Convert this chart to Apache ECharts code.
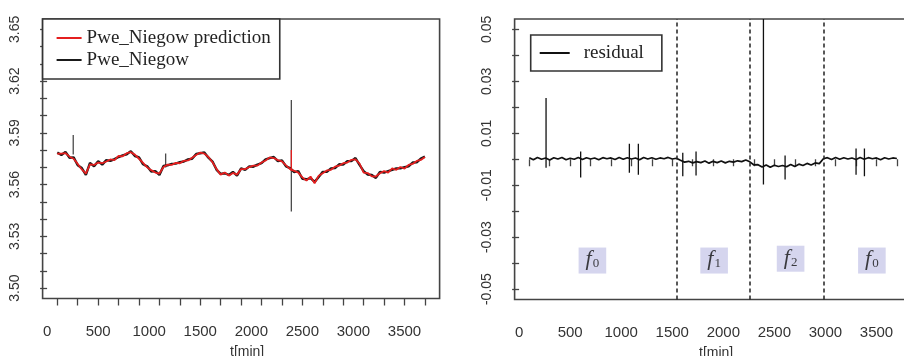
<!DOCTYPE html>
<html>
<head>
<meta charset="utf-8">
<script src="https://cdn.jsdelivr.net/npm/echarts@6/dist/echarts.min.js"></script>
<style>
  html, body { margin: 0; padding: 0; background: #fff; }
  #chart { width: 904px; height: 356px; }
</style>
</head>
<body>
<div id="chart"></div>
<script>
// Sampling grid of the series (minutes)
const startMin = 100;
const stepMin = 40;

// Measured pressure Pwe_Niegow
const pweActual = [
  3.5786, 3.5772, 3.5790, 3.5756, 3.5758, 3.5712, 3.5696, 3.5656, 3.5726, 3.5706,
  3.5736, 3.5716, 3.5742, 3.5738, 3.5748, 3.5760, 3.5770, 3.5776, 3.5794, 3.5766,
  3.5758, 3.5718, 3.5706, 3.5676, 3.5678, 3.5656, 3.5708, 3.5712, 3.5720, 3.5722,
  3.5730, 3.5734, 3.5746, 3.5750, 3.5778, 3.5782, 3.5786, 3.5756, 3.5734, 3.5686,
  3.5662, 3.5666, 3.5656, 3.5674, 3.5652, 3.5694, 3.5686, 3.5706, 3.5704, 3.5716,
  3.5724, 3.5746, 3.5754, 3.5760, 3.5736, 3.5741, 3.5706, 3.5696, 3.5672, 3.5678,
  3.5634, 3.5631, 3.5638, 3.5616, 3.5644, 3.5674, 3.5674, 3.5694, 3.5696, 3.5718,
  3.5716, 3.5736, 3.5736, 3.5754, 3.5714, 3.5678, 3.5659, 3.5656, 3.5639, 3.5674,
  3.5670, 3.5678, 3.5686, 3.5694, 3.5694, 3.5701, 3.5706, 3.5728, 3.5729, 3.5751,
  3.5762
];

// Model prediction of Pwe_Niegow
const pwePrediction = [
  3.5779, 3.5780, 3.5783, 3.5762, 3.5750, 3.5720, 3.5688, 3.5664, 3.5718, 3.5714,
  3.5728, 3.5724, 3.5734, 3.5746, 3.5742, 3.5766, 3.5764, 3.5782, 3.5788, 3.5774,
  3.5750, 3.5726, 3.5700, 3.5684, 3.5670, 3.5664, 3.5702, 3.5716, 3.5714, 3.5726,
  3.5724, 3.5738, 3.5740, 3.5756, 3.5772, 3.5786, 3.5780, 3.5760, 3.5730, 3.5690,
  3.5658, 3.5670, 3.5652, 3.5668, 3.5658, 3.5690, 3.5690, 3.5702, 3.5710, 3.5710,
  3.5728, 3.5740, 3.5758, 3.5754, 3.5742, 3.5735, 3.5712, 3.5690, 3.5680, 3.5670,
  3.5642, 3.5623, 3.5647, 3.5608, 3.5652, 3.5666, 3.5682, 3.5686, 3.5704, 3.5710,
  3.5724, 3.5728, 3.5744, 3.5746, 3.5722, 3.5670, 3.5667, 3.5648, 3.5647, 3.5666,
  3.5678, 3.5670, 3.5694, 3.5686, 3.5702, 3.5693, 3.5714, 3.5720, 3.5737, 3.5743,
  3.5760
];

// Short disturbances in the measurement: [minute, low, high]
const pweSpikes = [
  [256, 3.5775, 3.5888],
  [1161, 3.5700, 3.5780],
  [2392, 3.5444, 3.6090]
];
const predictionSpikes = [
  [2392, 3.5680, 3.5800]
];

// Residual of the model
const residual = [
  0.0006, -0.0002, 0.0007, 0.0000, 0.0005, -0.0003, 0.0006, 0.0001, 0.0007, -0.0002,
  0.0004, 0.0000, 0.0007, -0.0001, 0.0006, 0.0001, 0.0005, -0.0002, 0.0006, 0.0002,
  0.0005, -0.0001, 0.0007, 0.0000, 0.0006, 0.0001, 0.0005, -0.0002, 0.0007, 0.0001,
  0.0006, 0.0000, 0.0005, 0.0002, 0.0007, 0.0001, 0.0004,
  -0.0004, -0.0011, -0.0008, -0.0014, -0.0009, -0.0013, -0.0007, -0.0015, -0.0008, -0.0013,
  -0.0007, -0.0014, -0.0008, -0.0011, -0.0006, -0.0009, -0.0003,
  -0.0010, -0.0022, -0.0021, -0.0030, -0.0022, -0.0031, -0.0023, -0.0028, -0.0024, -0.0029,
  -0.0020, -0.0028, -0.0019, -0.0024, -0.0016, -0.0022, -0.0014, -0.0017,
  0.0002, 0.0006, -0.0001, 0.0007, 0.0000, 0.0006, 0.0001, 0.0005, -0.0001, 0.0007,
  0.0000, 0.0006, 0.0002, 0.0005, -0.0002, 0.0006, 0.0001, 0.0005, 0.0003
];
const residualSpikes = [
  [264, -0.0033, 0.0236],
  [603, -0.0070, 0.0030],
  [1080, -0.0052, 0.0060],
  [1168, -0.0060, 0.0060],
  [1603, -0.0065, 0.0025],
  [1733, -0.0063, 0.0030],
  [2393, -0.0097, 0.0700],
  [2605, -0.0078, 0.0014],
  [3300, -0.0060, 0.0041],
  [3382, -0.0065, 0.0041]
];

// Detected fault switching times (minutes) and fault regime labels
const changePoints = [1545, 2255, 2980];
const regimeLabels = [
  [718, -0.0390, '0'],
  [1910, -0.0390, '1'],
  [2659, -0.0383, '2'],
  [3455, -0.0390, '0']
];

// Axis ticks and labels
const xTickValues = [100, 300, 500, 700, 900, 1100, 1300, 1500, 1700, 1900, 2100, 2300, 2500, 2700, 2900, 3100, 3300, 3500, 3700];
const xLabelValues = [0, 500, 1000, 1500, 2000, 2500, 3000, 3500];
const yTickValuesP = [3.50, 3.51, 3.52, 3.53, 3.54, 3.55, 3.56, 3.57, 3.58, 3.59, 3.60, 3.61, 3.62, 3.63, 3.64, 3.65];
const yLabelValuesP = [3.50, 3.53, 3.56, 3.59, 3.62, 3.65];
const yTickValuesR = [-0.05, -0.04, -0.03, -0.02, -0.01, 0, 0.01, 0.02, 0.03, 0.04, 0.05];
const yLabelValuesR = [-0.05, -0.03, -0.01, 0.01, 0.03, 0.05];

const toPairs = vals => vals.map((v, i) => [startMin + stepMin * i, v]);

const AXIS_COLOR = '#444';
const TEXT_COLOR = '#333';
const SANS = '"Liberation Sans", Arial, sans-serif';
const SERIF = '"Liberation Serif", "Times New Roman", serif';

function spikeRenderer(color) {
  return function (params, api) {
    const a = api.coord([api.value(0), api.value(1)]);
    const b = api.coord([api.value(0), api.value(2)]);
    return {
      type: 'line',
      shape: { x1: a[0], y1: a[1], x2: b[0], y2: b[1] },
      style: { stroke: color, lineWidth: 1.3 }
    };
  };
}

function xAxisFor(gridIndex) {
  return {
    type: 'value', gridIndex: gridIndex, min: -44, max: 3844,
    axisLine: { show: false },
    splitLine: { show: false },
    axisTick: { show: true, inside: false, length: 7, customValues: xTickValues,
                lineStyle: { color: AXIS_COLOR, width: 1.3 } },
    axisLabel: { customValues: xLabelValues, margin: 26, fontSize: 15,
                 color: TEXT_COLOR, fontFamily: SANS, formatter: v => String(v) },
    name: 't[min]', nameLocation: 'middle', nameGap: 47,
    nameTextStyle: { fontSize: 14, color: TEXT_COLOR, fontFamily: SANS,
                     padding: [0, 0, 0, gridIndex === 0 ? 12 : 6] }
  };
}

function yAxisFor(gridIndex, min, max, ticks, labels) {
  return {
    type: 'value', gridIndex: gridIndex, min: min, max: max,
    axisLine: { show: false },
    splitLine: { show: false },
    axisTick: { show: true, inside: false, length: 7, customValues: ticks,
                lineStyle: { color: AXIS_COLOR, width: 1.3 } },
    axisLabel: { customValues: labels, rotate: 90, margin: 20, fontSize: 14,
                 color: TEXT_COLOR, fontFamily: SANS,
                 formatter: v => Number(v).toFixed(2) }
  };
}

const chart = echarts.init(document.getElementById('chart'), null, { renderer: 'canvas' });

chart.setOption({
  backgroundColor: '#ffffff',
  animation: false,
  grid: [
    { left: 42.6, top: 19, width: 397, height: 279.5, show: true,
      outerBoundsMode: 'none', containLabel: false,
      borderColor: AXIS_COLOR, borderWidth: 1.6, backgroundColor: 'transparent' },
    { left: 514.6, top: 19, width: 397, height: 280.5, show: true,
      outerBoundsMode: 'none', containLabel: false,
      borderColor: AXIS_COLOR, borderWidth: 1.6, backgroundColor: 'transparent' }
  ],
  xAxis: [xAxisFor(0), xAxisFor(1)],
  yAxis: [
    yAxisFor(0, 3.494, 3.656, yTickValuesP, yLabelValuesP),
    yAxisFor(1, -0.054, 0.054, yTickValuesR, yLabelValuesR)
  ],
  legend: [
    {
      left: 42.6, top: 19, orient: 'vertical',
      padding: [9, 9, 9, 14], itemGap: 2, itemWidth: 25, itemHeight: 2, icon: 'rect',
      borderColor: '#333', borderWidth: 1.6, backgroundColor: '#fff',
      selectedMode: false,
      textStyle: { fontFamily: SERIF, fontSize: 19, color: '#222', lineHeight: 20 },
      data: ['Pwe_Niegow prediction', 'Pwe_Niegow']
    },
    {
      left: 530.7, top: 35, orient: 'vertical',
      padding: [8, 18, 8, 9], itemWidth: 30, itemHeight: 2, icon: 'rect',
      borderColor: '#333', borderWidth: 1.6, backgroundColor: '#fff',
      selectedMode: false,
      textStyle: { fontFamily: SERIF, fontSize: 19, color: '#222', lineHeight: 20,
                   padding: [0, 0, 0, 9] },
      data: ['residual']
    }
  ],
  series: [
    {
      name: 'Pwe_Niegow', type: 'line', xAxisIndex: 0, yAxisIndex: 0,
      data: toPairs(pweActual), showSymbol: false, symbol: 'none',
      color: '#1a1a1a', lineStyle: { color: '#1a1a1a', width: 2.4 }, z: 2
    },
    {
      name: 'Pwe_Niegow spikes', type: 'custom', xAxisIndex: 0, yAxisIndex: 0,
      data: pweSpikes, encode: { x: 0, y: [1, 2] }, clip: true,
      renderItem: spikeRenderer('#4a4a4a'), z: 2
    },
    {
      name: 'Pwe_Niegow prediction', type: 'line', xAxisIndex: 0, yAxisIndex: 0,
      data: toPairs(pwePrediction), showSymbol: false, symbol: 'none',
      color: '#e41f1f', lineStyle: { color: '#e41f1f', width: 1.8 }, z: 3
    },
    {
      name: 'prediction spikes', type: 'custom', xAxisIndex: 0, yAxisIndex: 0,
      data: predictionSpikes, encode: { x: 0, y: [1, 2] }, clip: true,
      renderItem: spikeRenderer('#e41f1f'), z: 3
    },
    {
      name: 'residual', type: 'line', xAxisIndex: 1, yAxisIndex: 1,
      data: toPairs(residual), showSymbol: false, symbol: 'none',
      color: '#111', lineStyle: { color: '#111', width: 1.7 }, z: 3,
      markLine: {
        silent: true, symbol: ['none', 'none'], label: { show: false },
        lineStyle: { type: [4, 3], color: '#222', width: 1.5 },
        data: changePoints.map(t => ({ xAxis: t }))
      }
    },
    {
      name: 'residual spikes', type: 'custom', xAxisIndex: 1, yAxisIndex: 1,
      data: residualSpikes, encode: { x: 0, y: [1, 2] }, clip: true,
      renderItem: spikeRenderer('#111'), z: 3
    },
    {
      name: 'regimes', type: 'scatter', xAxisIndex: 1, yAxisIndex: 1,
      data: regimeLabels, symbolSize: 0, silent: true,
      label: {
        show: true, position: 'inside',
        backgroundColor: '#cacaea', padding: [3, 7, 3, 7],
        formatter: p => '{f|f}{s|' + p.value[2] + '}',
        rich: {
          f: { fontFamily: SERIF, fontStyle: 'italic', fontSize: 22, color: '#111',
               lineHeight: 20, verticalAlign: 'bottom' },
          s: { fontFamily: SERIF, fontSize: 13, color: '#111', lineHeight: 20,
               verticalAlign: 'bottom', padding: [0, 0, 0, 1] }
        }
      }
    }
  ]
});
</script>
</body>
</html>
